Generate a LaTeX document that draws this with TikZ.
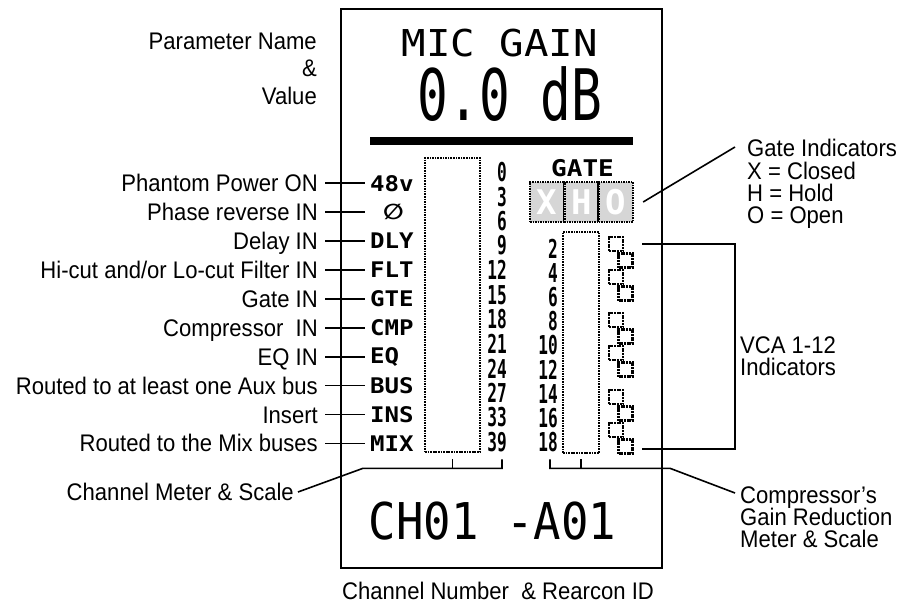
\documentclass[tikz,border=0pt]{standalone}
\usepackage{fontspec}
\setmainfont{Liberation Sans}[FakeStretch=0.92]
\newfontfamily\lcd{DejaVu Sans Mono}
\newfontfamily\dvs{DejaVu Sans}
\usetikzlibrary{calc}
\tikzset{
  lbl/.style={font=\fontsize{24}{24}\selectfont, inner sep=0pt},
  lead/.style={line width=1.6pt},
  abbr/.style={font=\lcd\bfseries\fontsize{21.5}{22}\selectfont, inner sep=0pt, xscale=1.12},
  scl/.style={font=\lcd\bfseries\fontsize{26}{26}\selectfont, inner sep=0pt, xscale=0.62},
  meter/.style={draw, line width=2.6pt, dash pattern=on 1.7pt off 0.9pt, inner sep=0pt},
  vca/.style={draw, line width=2.8pt, dash pattern=on 2pt off 0.7pt, minimum size=14pt, inner sep=0pt},
  gatecell/.style={draw, line width=2.4pt, dash pattern=on 1.6pt off 0.9pt, fill=gray!32,
    minimum width=34.3pt, minimum height=40pt, inner sep=0pt, text=white,
    font=\lcd\bfseries\fontsize{34}{34}\selectfont},
  barrow/.style={line width=2.9pt, dash pattern=on 2.5pt off 0.5pt},
}
\newcommand\lblrow[5]{%
  \node[lbl, anchor=base east] (l#1) at (318,#2+8.5) {#3};
  \node[abbr, anchor=west] (a#1) at (#5,#2) {#4};
  \draw[lead] ([shift={(7,-8.5)}]l#1.base east) -- ([shift={(47,-8.5)}]l#1.base east);
}
\begin{document}
\begin{tikzpicture}[x=1pt,y=-1pt]
\useasboundingbox (0,0) rectangle (903,607);

% display frame
\node[draw, line width=2pt, minimum width=321pt, minimum height=559pt, inner sep=0pt] (disp) at (501.5,288.5) {};

% parameter name and value
\node[font=\lcd\fontsize{37}{37}\selectfont, inner sep=0pt, xscale=1.1] (pname) at (500,43.5) {MIC GAIN};
\node[font=\lcd\fontsize{71}{71}\selectfont, inner sep=0pt, xscale=0.72] (pval) at (510,94) {0.0 dB};
\foreach \yy in {138.5,141,143.5} \draw[barrow] (370,\yy) -- (633,\yy);

\node[lbl, anchor=base east] (pn1) at (317,50) {Parameter Name};
\node[lbl, anchor=base east] (pn2) at (317,77) {\&};
\node[lbl, anchor=base east] (pn3) at (317,105) {Value};

% status rows
\lblrow{1}{183.3}{Phantom Power ON}{48v}{370}
\lblrow{2}{212.2}{Phase reverse IN}{\dvs\bfseries ∅}{383}
\lblrow{3}{241.1}{Delay IN}{DLY}{370}
\lblrow{4}{270}{Hi-cut and/or Lo-cut Filter IN}{FLT}{370}
\lblrow{5}{298.9}{Gate IN}{GTE}{370}
\lblrow{6}{327.8}{Compressor\ \ IN}{CMP}{370}
\lblrow{7}{356.7}{EQ IN}{EQ}{370}
\lblrow{8}{385.6}{Routed to at least one Aux bus}{BUS}{370}
\lblrow{9}{414.5}{Insert}{INS}{370}
\lblrow{10}{443.4}{Routed to the Mix buses}{MIX}{370}

% channel meter and scale
\node[meter, minimum width=55pt, minimum height=294pt] (cm) at (452.5,305) {};
\foreach \v [count=\i from 0] in {0,3,6,9,12,15,18,21,24,27,33,39}
  \node[scl, anchor=east] (cs\i) at (507,{172+24.55*\i}) {\v};

% gate indicators
\node[font=\lcd\bfseries\fontsize{23}{23}\selectfont, inner sep=0pt, xscale=1.13] (gate) at (582.5,168.5) {GATE};
\node[gatecell] (gx) at (547.2,202) {X};
\node[gatecell] (gh) at (581.5,202) {H};
\node[gatecell] (go) at (615.8,202) {O};

% gain reduction meter and scale
\node[meter, minimum width=36pt, minimum height=221pt] (gr) at (581,342.5) {};
\foreach \v [count=\i from 0] in {2,4,6,8,10,12,14,16,18}
  \node[scl, anchor=east] (gs\i) at (558,{249+24.1*\i}) {\v};

% VCA indicators
\foreach \g [count=\gi from 0] in {237,313,390} {
  \foreach \k in {0,1,2,3} {
    \pgfmathtruncatemacro\n{4*\gi+\k+1}
    \pgfmathsetmacro\xx{isodd(\k) ? 625.5 : 616}
    \node[vca] (v\n) at (\xx,{\g+7+16.5*\k}) {};
  }
}

% right side annotations
\node[lbl, anchor=base west] (gt1) at (747,157) {Gate Indicators};
\node[lbl, anchor=base west] (gt2) at (747,179) {X = Closed};
\node[lbl, anchor=base west] (gt3) at (747,201) {H = Hold};
\node[lbl, anchor=base west] (gt4) at (747,223) {O = Open};
\draw[lead] ([xshift=9pt]go.east) -- ([shift={(-12,-10)}]gt1.base west);

\node[lbl, anchor=base west] (vc1) at (740,353) {VCA 1-12};
\node[lbl, anchor=base west] (vc2) at (740,375) {Indicators};
\coordinate (vb) at (735,300);
\draw[lead] ([xshift=26pt]v1.center) -| (vb) |- ([shift={(16.5,2.5)}]v12.center);

\node[lbl, anchor=base west] (cr1) at (740,503) {Compressor’s};
\node[lbl, anchor=base west] (cr2) at (740,525) {Gain Reduction};
\node[lbl, anchor=base west] (cr3) at (740,547) {Meter \& Scale};
\draw[lead] ([yshift=-5pt]gr.south) -- ([yshift=-14pt]gr.south);
\draw[lead] ([shift={(-31,5)}]gr.south) -- ([shift={(-31,14)}]gr.south)
  -- ([shift={(89,14)}]gr.south) -- ([shift={(-5,-10)}]cr1.base west);

% channel meter bracket
\node[lbl, anchor=base east] (cmt) at (294,500) {Channel Meter \& Scale};
\draw[lead] ([yshift=-6pt]cm.south) -- ([yshift=-15pt]cm.south);
\draw[lead] ([shift={(49.5,6)}]cm.south) -- ([shift={(49.5,15)}]cm.south)
  -- ([shift={(-89.5,15)}]cm.south) -- ([shift={(4,-8)}]cmt.base east);

% channel number
\node[font=\lcd\fontsize{50.7}{50.7}\selectfont, inner sep=0pt, xscale=0.9] (chn) at (492.5,521.5) {CH01 -A01};
\node[lbl, anchor=base west] (cap) at (342,599) {Channel Number\ \ \& Rearcon ID};
\end{tikzpicture}
\end{document}
